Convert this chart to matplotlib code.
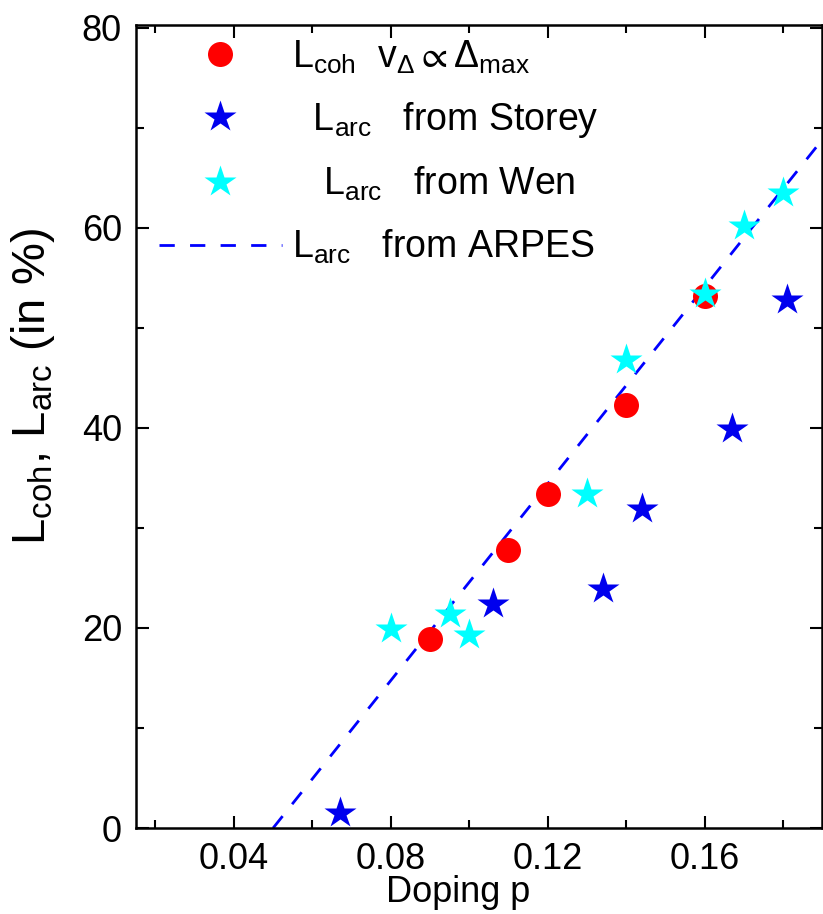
import numpy as np
import matplotlib
matplotlib.use("Agg")
import matplotlib.pyplot as plt

# L_coh from v_Delta ~ Delta_max (red circles)
p_coh = [0.09, 0.11, 0.12, 0.14, 0.16]
L_coh = [18.9, 27.8, 33.4, 42.3, 53.2]

# L_arc from Storey (blue stars)
p_storey = [0.067, 0.106, 0.134, 0.144, 0.167, 0.181]
L_storey = [1.5, 22.4, 23.9, 31.9, 39.9, 52.8]

# L_arc from Wen (cyan stars)
p_wen = [0.08, 0.095, 0.10, 0.13, 0.14, 0.16, 0.17, 0.18]
L_wen = [19.9, 21.4, 19.3, 33.4, 46.8, 53.4, 60.2, 63.5]

# L_arc from ARPES (dashed line)
p_arpes = [0.05, 0.19]
L_arpes = [0.0, 68.8]

plt.rcParams['font.family'] = ['Liberation Sans', 'DejaVu Sans']
plt.rcParams['mathtext.fontset'] = 'custom'
plt.rcParams['mathtext.rm'] = 'Liberation Sans'
plt.rcParams['mathtext.it'] = 'Liberation Sans'

fig = plt.figure(figsize=(8.23, 9.14), dpi=100)
ax = fig.add_axes([0.165, 0.094, 0.834, 0.879])

ax.plot(p_arpes, L_arpes, color='#0000ff', lw=2.0, linestyle=(0, (5.5, 5.5)),
        label=r'$\mathregular{L_{arc}}$   from ARPES', zorder=2)
ax.plot(p_coh, L_coh, 'o', color='#ff0000', ms=18, mec='none',
        label=r'$\mathregular{L_{coh}\ \ v_{\Delta}{\propto}\Delta_{max}}$', zorder=3)
ax.plot(p_storey, L_storey, '*', color='#0000ee', ms=24, mec='none',
        label=r'  $\mathregular{L_{arc}}$   from Storey', zorder=3)
ax.plot(p_wen, L_wen, '*', color='#00ffff', ms=24, mec='none',
        label=r'   $\mathregular{L_{arc}}$   from Wen', zorder=4)

ax.set_xlim(0.015, 0.19)
ax.set_ylim(0, 80.3)
ax.set_xticks([0.04, 0.08, 0.12, 0.16])
ax.set_xticklabels(['0.04', '0.08', '0.12', '0.16'])
ax.set_xticks([0.02, 0.06, 0.10, 0.14, 0.18], minor=True)
ax.set_yticks([0, 20, 40, 60, 80])
ax.set_yticks([10, 30, 50, 70], minor=True)
ax.tick_params(which='both', direction='in', top=True, right=True,
               labelsize=26, width=1.5, pad=10)
ax.tick_params(which='major', length=9)
ax.tick_params(which='minor', length=6)
for s in ax.spines.values():
    s.set_linewidth(1.8)

ax.set_xlabel('Doping p', fontsize=26)
ax.xaxis.set_label_coords(0.47, -0.058)
ax.set_ylabel(r'$\mathregular{L_{coh}}$, $\mathregular{L_{arc}}$ (in %)', fontsize=34)
ax.yaxis.set_label_coords(-0.115, 0.55)

h, l = ax.get_legend_handles_labels()
order = [1, 2, 3, 0]
ax.legend([h[i] for i in order], [l[i] for i in order], loc='upper left',
          bbox_to_anchor=(0.025, 0.99), frameon=False, fontsize=27,
          handlelength=3.3, handletextpad=0.25, labelspacing=0.66,
          borderpad=0.15, borderaxespad=0.0)

fig.savefig('out.png', dpi=100)
